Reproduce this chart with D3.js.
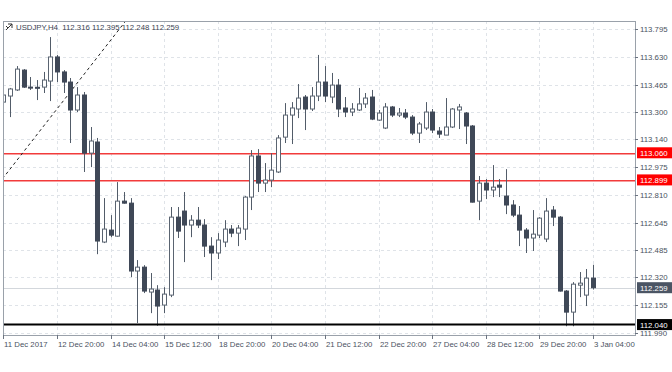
<!DOCTYPE html>
<html>
<head>
<meta charset="utf-8">
<script src="https://cdn.jsdelivr.net/npm/d3@7"></script>
<style>
  body { margin: 0; background: #fff; }
  text { font-family: "Liberation Sans", Arial, sans-serif; }
</style>
</head>
<body>
<div id="chart"></div>
<script>
// USDJPY H4 candles, 11 Dec 2017 12:00 .. 3 Jan 2018 04:00 (89 bars)
var open  = [113.361,113.397,113.433,113.551,113.450,113.449,113.450,113.486,113.629,113.540,
             113.480,113.314,113.403,113.058,113.124,112.530,112.601,112.565,112.773,112.761,
             112.358,112.381,112.233,112.245,112.156,112.215,112.678,112.714,112.631,112.660,
             112.631,112.506,112.465,112.530,112.607,112.583,112.607,112.797,113.041,112.880,
             112.898,112.946,113.153,113.284,113.320,113.391,113.320,113.397,113.480,113.391,
             113.462,113.326,113.302,113.314,113.350,113.391,113.254,113.207,113.332,113.284,
             113.296,113.272,113.177,113.207,113.302,113.189,113.165,113.213,113.314,113.296,
             113.219,112.773,112.880,112.839,112.868,112.803,112.750,112.690,112.601,112.554,
             112.571,112.548,112.720,112.678,112.239,112.114,112.274,112.215,112.316];
var high  = [113.433,113.445,113.575,113.557,113.510,113.492,113.540,113.747,113.641,113.551,
             113.504,113.450,113.421,113.213,113.148,112.791,112.690,112.886,112.827,112.791,
             112.423,112.393,112.346,112.274,112.262,112.738,112.738,112.827,112.690,112.738,
             112.666,112.559,112.583,112.660,112.631,112.631,112.803,113.076,113.082,112.999,
             113.058,113.165,113.355,113.361,113.468,113.403,113.450,113.641,113.575,113.534,
             113.498,113.391,113.355,113.445,113.415,113.433,113.314,113.355,113.338,113.326,
             113.320,113.284,113.243,113.361,113.320,113.213,113.385,113.326,113.350,113.302,
             113.225,112.922,112.904,112.987,112.904,112.963,112.779,112.744,112.613,112.720,
             112.678,112.791,112.744,112.684,112.245,112.292,112.352,112.370,112.395];
var low   = [113.243,113.272,113.427,113.445,113.433,113.373,113.415,113.367,113.480,113.415,
             113.118,113.302,112.946,112.975,112.458,112.524,112.559,112.562,112.758,112.322,
             112.049,112.227,112.108,112.033,112.108,112.203,112.554,112.411,112.559,112.613,
             112.441,112.304,112.429,112.500,112.559,112.506,112.542,112.720,112.827,112.827,
             112.856,112.940,113.118,113.112,113.266,113.195,113.308,113.367,113.361,113.355,
             113.272,113.272,113.278,113.308,113.326,113.254,113.249,113.201,113.272,113.272,
             113.260,113.165,113.118,113.195,113.177,113.148,113.165,113.207,113.201,113.112,
             112.765,112.660,112.785,112.797,112.797,112.696,112.678,112.506,112.465,112.477,
             112.554,112.530,112.625,112.236,112.030,112.030,112.203,112.150,112.248];
var close = [113.403,113.439,113.557,113.450,113.447,113.446,113.492,113.629,113.540,113.480,
             113.314,113.403,113.058,113.130,112.536,112.607,112.571,112.773,112.761,112.358,
             112.381,112.239,112.251,112.150,112.221,112.678,112.595,112.631,112.660,112.631,
             112.506,112.465,112.542,112.607,112.583,112.613,112.797,113.041,112.880,112.898,
             112.957,113.148,113.284,113.326,113.385,113.320,113.397,113.480,113.397,113.462,
             113.320,113.302,113.320,113.350,113.385,113.260,113.296,113.332,113.284,113.296,
             113.272,113.177,113.231,113.302,113.195,113.171,113.213,113.320,113.332,113.219,
             112.767,112.880,112.839,112.856,112.856,112.750,112.690,112.601,112.554,112.577,
             112.672,112.714,112.678,112.239,112.114,112.280,112.286,112.316,112.259];

var yTicks = [113.795,113.630,113.465,113.300,113.140,112.975,112.810,112.645,112.485,112.320,112.155,111.990];
var xTickBars = [0,8,16,24,32,40,48,56,64,72,80,88];
var xTickLabels = ["11 Dec 2017","12 Dec 20:00","14 Dec 04:00","15 Dec 12:00","18 Dec 20:00","20 Dec 04:00",
                   "21 Dec 12:00","22 Dec 20:00","27 Dec 04:00","28 Dec 12:00","29 Dec 20:00","3 Jan 04:00"];
var redLevels = [113.060, 112.899];
var blackLevel = 112.040;
var bidPrice = 112.259;
var trendBars = [0, 18.2];
var trendPrices = [112.905, 113.840];
var title = "USDJPY,H4  112.316 112.395 112.248 112.259";

var W = 672, H = 372;
var pLeft = 3, pRight = 635, pTop = 21, pBottom = 335;

var svg = d3.select("#chart").append("svg")
    .attr("width", W).attr("height", H);

var x = d3.scaleLinear().domain([0, 88]).range([3.4, 593]);
var y = d3.scaleLinear().domain([111.990, 113.795]).range([333, 29]);

svg.append("clipPath").attr("id", "plot")
  .append("rect").attr("x", pLeft).attr("y", pTop).attr("width", pRight - pLeft).attr("height", pBottom - pTop);

var plot = svg.append("g").attr("clip-path", "url(#plot)");

// grid
plot.selectAll(".hgrid").data(yTicks).enter().append("line")
  .attr("x1", pLeft).attr("x2", pRight)
  .attr("y1", function(d){ return Math.round(y(d)) + 0.5; })
  .attr("y2", function(d){ return Math.round(y(d)) + 0.5; })
  .style("stroke", "#dfe3e8").style("stroke-dasharray", "3,3");
plot.selectAll(".vgrid").data(xTickBars.slice(1)).enter().append("line")
  .attr("x1", function(d){ return Math.round(x(d)) + 0.5; })
  .attr("x2", function(d){ return Math.round(x(d)) + 0.5; })
  .attr("y1", pTop).attr("y2", pBottom)
  .style("stroke", "#dfe3e8").style("stroke-dasharray", "3,3");

// bid line
plot.append("line")
  .attr("x1", pLeft).attr("x2", pRight)
  .attr("y1", Math.round(y(bidPrice)) + 0.5).attr("y2", Math.round(y(bidPrice)) + 0.5)
  .style("stroke", "#d3d7dc");

// horizontal levels
plot.selectAll(".lvl").data(redLevels).enter().append("rect")
  .attr("x", pLeft).attr("width", pRight - pLeft)
  .attr("y", function(d){ return Math.round(y(d)); })
  .attr("height", 1.5)
  .style("fill", "#f23b3b");

// trend line
plot.append("line")
  .attr("x1", x(trendBars[0]) - 1).attr("y1", y(trendPrices[0]))
  .attr("x2", x(trendBars[1])).attr("y2", y(trendPrices[1]))
  .style("stroke", "#222").style("stroke-width", 1).style("stroke-dasharray", "3,3");

// candles
var bars = d3.range(open.length);
var bodyW = 4;
plot.selectAll(".wick").data(bars).enter().append("line")
  .attr("x1", function(i){ return Math.round(x(i)) + 0.5; })
  .attr("x2", function(i){ return Math.round(x(i)) + 0.5; })
  .attr("y1", function(i){ return y(high[i]); })
  .attr("y2", function(i){ return y(low[i]); })
  .style("stroke", "#525c69").style("stroke-width", 1);

plot.selectAll(".body").data(bars).enter().append("rect")
  .attr("x", function(i){ return Math.round(x(i)) - bodyW / 2 + 0.5; })
  .attr("width", bodyW)
  .attr("y", function(i){ return y(Math.max(open[i], close[i])); })
  .attr("height", function(i){ return Math.max(1, Math.abs(y(open[i]) - y(close[i]))); })
  .style("fill", function(i){ return close[i] >= open[i] ? "#ffffff" : "#3f4857"; })
  .style("stroke", function(i){ return close[i] >= open[i] ? "#5a6471" : "#3f4857"; })
  .style("stroke-width", 1);

// black support line
plot.append("line")
  .attr("x1", pLeft).attr("x2", pRight)
  .attr("y1", y(blackLevel)).attr("y2", y(blackLevel))
  .style("stroke", "#000").style("stroke-width", 2);

// frame
svg.append("rect")
  .attr("x", pLeft + 0.5).attr("y", pTop + 0.5)
  .attr("width", pRight - pLeft).attr("height", pBottom - pTop)
  .style("fill", "none").style("stroke", "#9aa1aa");

// right axis
var yAxis = svg.append("g");
yAxis.selectAll("line").data(yTicks).enter().append("line")
  .attr("x1", pRight).attr("x2", pRight + 3)
  .attr("y1", function(d){ return Math.round(y(d)) + 0.5; })
  .attr("y2", function(d){ return Math.round(y(d)) + 0.5; })
  .style("stroke", "#6b7380");
yAxis.selectAll("text").data(yTicks).enter().append("text")
  .attr("x", pRight + 5).attr("y", function(d){ return y(d) + 3; })
  .style("font-size", "7.8px").style("fill", "#4a5260")
  .text(function(d){ return d.toFixed(3); });

// bottom axis
var xAxis = svg.append("g");
xAxis.selectAll("line").data(xTickBars).enter().append("line")
  .attr("x1", function(d){ return Math.round(x(d)) + 0.5; })
  .attr("x2", function(d){ return Math.round(x(d)) + 0.5; })
  .attr("y1", pBottom).attr("y2", pBottom + 4)
  .style("stroke", "#6b7380");
xAxis.selectAll("text").data(xTickBars).enter().append("text")
  .attr("x", function(d, i){ return i === 0 ? pLeft + 1 : Math.round(x(d)) + 1; })
  .attr("y", pBottom + 12)
  .style("font-size", "7.8px").style("fill", "#4a5260")
  .text(function(d, i){ return xTickLabels[i]; });

// price labels on the axis
function priceTag(v, bg) {
  var g = svg.append("g");
  g.append("rect").attr("x", pRight + 2).attr("y", y(v) - 5.5)
    .attr("width", 35).attr("height", 11).style("fill", bg);
  g.append("text").attr("x", pRight + 5).attr("y", y(v) + 3)
    .style("font-size", "7.8px").style("fill", "#fff").text(v.toFixed(3));
}
redLevels.forEach(function(v){ priceTag(v, "#ff0000"); });
priceTag(bidPrice, "#4b5564");
priceTag(blackLevel, "#000000");

// title + icon
svg.append("path")
  .attr("d", "M6,30 L12,24 M8,24 L12,24 L12,28 M6,26 L8,28")
  .style("stroke", "#333").style("fill", "none").style("stroke-width", 1);
svg.append("text").attr("x", 16).attr("y", 30)
  .style("font-size", "7.8px").style("fill", "#3c4452")
  .attr("xml:space", "preserve").style("white-space", "pre")
  .text(title);
</script>
</body>
</html>
